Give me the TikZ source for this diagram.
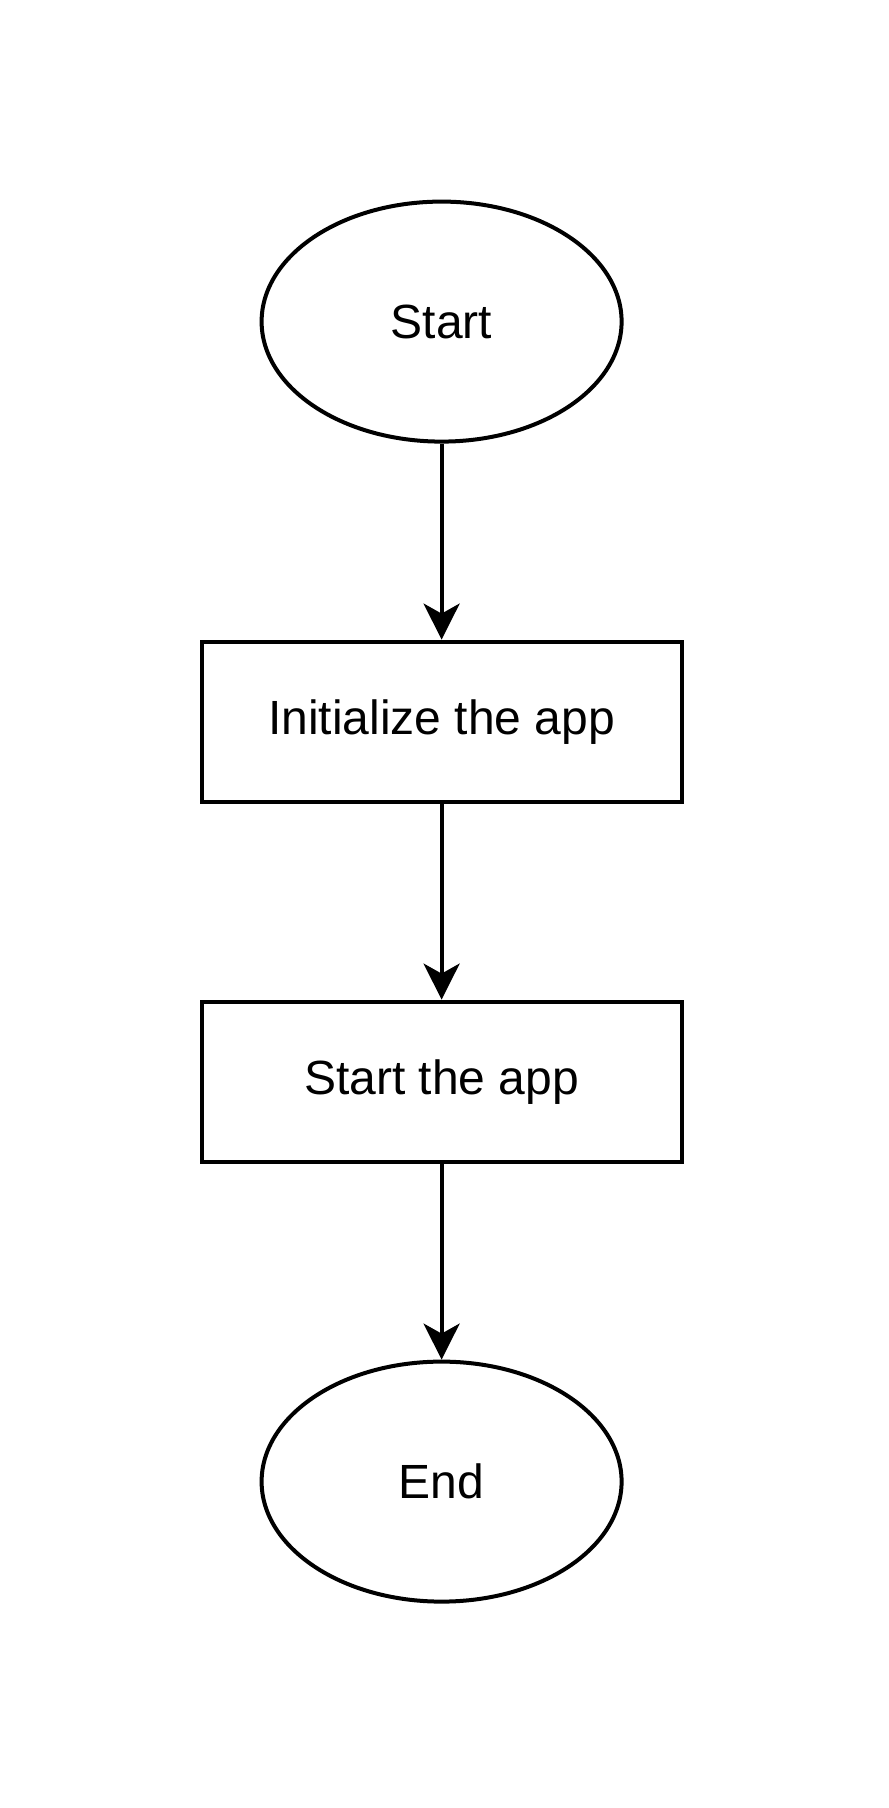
\documentclass[tikz,border=0pt]{standalone}
\usepackage{fontspec}
\setmainfont{Liberation Sans}
\usepackage{tikz}
\usetikzlibrary{positioning}
\usetikzlibrary{arrows.meta}
\usetikzlibrary{shapes.geometric}

\begin{document}
\begin{tikzpicture}[
				node distance=98pt,
				terminal/.style={ellipse, draw, line width=2pt, minimum width=180pt, minimum height=120pt, inner sep=0pt, font=\fontsize{24pt}{28pt}\selectfont},
				stepbox/.style={rectangle, draw, line width=2pt, minimum width=240pt, minimum height=80pt, font=\fontsize{24pt}{28pt}\selectfont, align=center},
				arrow/.style={-{Stealth[length=18pt, width=18pt, inset=5pt]}, line width=2pt}
			]
			\useasboundingbox (0,0) rectangle (444pt,-904pt);

			\node[terminal] (start) at (220.8pt,-160.8pt) {Start};
			\node[stepbox, below=of start] (init) {Initialize the app};
			\node[stepbox, below=of init] (run) {Start the app};
			\node[terminal, below=of run] (end) {End};

			\draw[arrow] (start) -- (init);
			\draw[arrow] (init) -- (run);
			\draw[arrow] (run) -- (end);

		\end{tikzpicture}
\end{document}
